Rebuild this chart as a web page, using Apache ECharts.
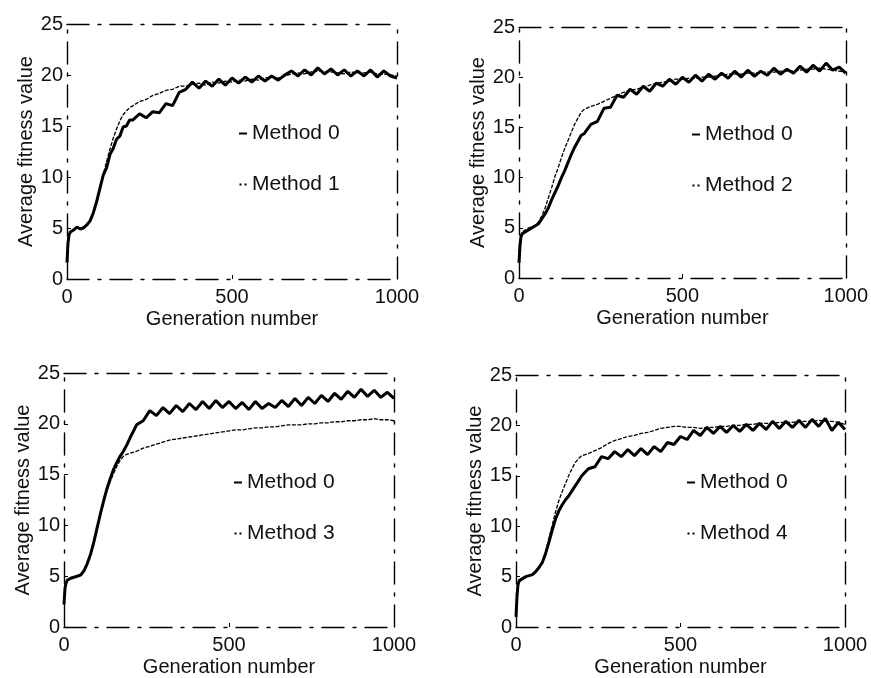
<!DOCTYPE html>
<html>
<head>
<meta charset="utf-8">
<script src="https://cdn.jsdelivr.net/npm/echarts@6/dist/echarts.min.js"></script>
<style>
  html, body { margin: 0; padding: 0; background: #fff; }
  #chart { width: 871px; height: 678px; }
</style>
</head>
<body>
<div id="chart"></div>
<script>
const gens = [0, 3, 6, 10, 20, 30, 40, 50, 60, 70, 80, 90, 100, 110, 120, 130, 140, 150, 160, 170, 180, 190, 200,
  220, 240, 260, 280, 300, 320, 340, 360, 380, 400, 420, 440, 460, 480, 500, 520, 540, 560, 580, 600,
  620, 640, 660, 680, 700, 720, 740, 760, 780, 800, 820, 840, 860, 880, 900, 920, 940, 960, 980, 1000];

const xTicks = [0, 500, 1000];
const yTicks = [0, 5, 10, 15, 20, 25];

// plot 1
const p1Method0 = [2.2, 3.8, 4.4, 4.6, 4.9, 5.0, 5.0, 5.1, 5.3, 5.8, 6.6, 7.8, 9.0, 10.3, 11.5, 12.7, 13.8, 14.7, 15.5, 16.1, 16.5, 16.8, 17.0,
  17.4, 17.6, 18.0, 18.2, 18.5, 18.6, 18.9, 18.9, 19.1, 19.2, 19.0, 19.3, 19.2, 19.4, 19.3, 19.5, 19.4, 19.6, 19.5, 19.7,
  19.8, 19.7, 19.9, 20.1, 20.2, 20.1, 20.3, 20.4, 20.3, 20.3, 20.2, 20.1, 20.3, 20.2, 20.2, 20.3, 20.1, 20.1, 20.0, 19.9];
const p1Method1 = [1.6, 3.5, 4.3, 4.6, 4.8, 5.1, 4.9, 5.0, 5.3, 5.7, 6.5, 7.6, 8.9, 10.2, 10.9, 12.2, 12.8, 13.7, 14.0, 14.9, 15.0, 15.6, 15.6,
  16.2, 15.8, 16.4, 16.3, 17.2, 17.0, 18.3, 18.6, 19.3, 18.7, 19.4, 18.9, 19.6, 19.0, 19.7, 19.2, 19.8, 19.3, 19.9, 19.4,
  19.9, 19.5, 20.0, 20.4, 19.9, 20.5, 20.0, 20.7, 20.1, 20.6, 20.0, 20.5, 19.9, 20.4, 19.9, 20.5, 19.8, 20.4, 19.9, 19.7];

// plot 2
const p2Method0 = [2.5, 3.8, 4.3, 4.6, 4.8, 5.0, 5.1, 5.2, 5.6, 6.2, 7.0, 8.0, 9.0, 10.1, 11.0, 12.0, 12.9, 13.7, 14.5, 15.3, 15.9, 16.5, 16.8,
  17.1, 17.3, 17.6, 17.9, 18.2, 18.5, 18.7, 18.8, 19.0, 19.2, 19.4, 19.5, 19.6, 19.8, 19.8, 19.9, 19.9, 20.0, 20.0, 20.1,
  20.2, 20.3, 20.3, 20.3, 20.4, 20.4, 20.5, 20.5, 20.5, 20.6, 20.6, 20.6, 20.7, 20.8, 20.8, 20.9, 20.8, 20.7, 20.6, 20.5];
const p2Method2 = [1.5, 3.2, 4.1, 4.4, 4.6, 4.8, 5.0, 5.2, 5.4, 5.9, 6.4, 7.0, 7.8, 8.5, 9.2, 10.0, 10.7, 11.5, 12.3, 13.0, 13.6, 14.2, 14.4,
  15.3, 15.6, 16.9, 17.0, 18.2, 18.0, 18.8, 18.3, 19.1, 18.6, 19.4, 19.1, 19.8, 19.3, 20.0, 19.5, 20.2, 19.6, 20.3, 19.8,
  20.4, 19.9, 20.6, 20.0, 20.7, 20.1, 20.6, 20.2, 20.9, 20.3, 20.8, 20.4, 21.1, 20.5, 21.2, 20.6, 21.4, 20.7, 21.0, 20.4];

// plot 3
const p3Method0 = [2.5, 3.9, 4.4, 4.6, 4.8, 4.9, 5.0, 5.2, 5.6, 6.3, 7.2, 8.4, 9.6, 11.0, 12.3, 13.4, 14.3, 15.1, 15.8, 16.4, 16.8, 17.0, 17.1,
  17.3, 17.6, 17.8, 18.0, 18.2, 18.4, 18.5, 18.6, 18.7, 18.8, 18.9, 19.0, 19.1, 19.2, 19.3, 19.4, 19.4, 19.5, 19.6, 19.6,
  19.7, 19.7, 19.8, 19.9, 19.9, 19.9, 20.0, 20.0, 20.1, 20.1, 20.2, 20.2, 20.3, 20.3, 20.4, 20.4, 20.5, 20.4, 20.4, 20.3];
const p3Method3 = [2.2, 3.8, 4.3, 4.6, 4.8, 4.9, 5.0, 5.1, 5.5, 6.2, 7.1, 8.3, 9.7, 11.1, 12.4, 13.6, 14.6, 15.5, 16.2, 16.8, 17.3, 17.9, 18.6,
  19.9, 20.3, 21.3, 20.8, 21.6, 21.0, 21.8, 21.2, 22.0, 21.4, 22.2, 21.5, 22.3, 21.6, 22.2, 21.5, 22.1, 21.4, 22.2, 21.5,
  22.0, 21.6, 22.3, 21.7, 22.5, 21.8, 22.6, 22.0, 22.8, 22.2, 23.0, 22.4, 23.2, 22.6, 23.4, 22.7, 23.3, 22.6, 23.1, 22.5];

// plot 4
const p4Method0 = [1.2, 3.6, 4.4, 4.6, 4.9, 5.0, 5.1, 5.2, 5.5, 5.9, 6.4, 7.5, 8.8, 10.1, 11.4, 12.5, 13.4, 14.2, 15.0, 15.7, 16.3, 16.7, 17.0,
  17.2, 17.5, 17.8, 18.2, 18.5, 18.7, 18.9, 19.0, 19.2, 19.3, 19.5, 19.7, 19.8, 19.9, 19.9, 19.8, 19.8, 19.7, 19.8, 19.8,
  19.9, 19.9, 20.0, 20.0, 20.1, 20.1, 20.2, 20.2, 20.2, 20.3, 20.3, 20.3, 20.4, 20.4, 20.4, 20.5, 20.4, 20.4, 20.3, 20.1];
const p4Method4 = [1.0, 3.0, 4.2, 4.6, 4.8, 5.0, 5.1, 5.2, 5.5, 5.9, 6.4, 7.3, 8.4, 9.6, 10.7, 11.5, 12.1, 12.6, 13.0, 13.5, 14.0, 14.5, 15.0,
  15.7, 15.9, 16.9, 16.7, 17.4, 16.9, 17.6, 17.0, 17.7, 17.1, 17.9, 17.4, 18.3, 18.1, 18.9, 18.6, 19.5, 19.0, 19.8, 19.2,
  19.9, 19.3, 20.0, 19.4, 20.1, 19.5, 20.2, 19.6, 20.4, 19.7, 20.4, 19.8, 20.5, 19.8, 20.6, 19.9, 20.7, 19.5, 20.3, 19.6];

const panels = [
  { other: "Method 1", m0: p1Method0, mn: p1Method1, grid: { left: 67, top: 24, width: 330, height: 255 }, legend: { left: 234, top: 118 } },
  { other: "Method 2", m0: p2Method0, mn: p2Method2, grid: { left: 519, top: 27, width: 332, height: 251 }, legend: { left: 687, top: 119 } },
  { other: "Method 3", m0: p3Method0, mn: p3Method3, grid: { left: 64, top: 373, width: 330, height: 255 }, legend: { left: 229, top: 467 } },
  { other: "Method 4", m0: p4Method0, mn: p4Method4, grid: { left: 516, top: 375, width: 329, height: 254 }, legend: { left: 682, top: 467 } }
];

const font = "'Liberation Sans', Arial, sans-serif";
const ink = "#111";
const boxLine = { color: "#000", width: 1.4, type: [22, 9, 3, 9] };

const grids = [], xAxes = [], yAxes = [], series = [], legends = [];

panels.forEach((p, k) => {
  grids.push(p.grid);
  // bottom + top x axes, left + right y axes make the box
  xAxes.push({
    gridIndex: k, type: "value", min: 0, max: 1000, interval: 500,
    name: "Generation number", nameLocation: "middle", nameGap: 30,
    nameTextStyle: { fontSize: 20, color: ink, fontFamily: font },
    axisLine: { show: true, onZero: false, lineStyle: boxLine },
    axisTick: { show: true, inside: true, length: 4, lineStyle: { color: "#000" } },
    axisLabel: { fontSize: 20, color: ink, fontFamily: font, margin: 8,
      formatter: v => xTicks.includes(v) ? String(v) : "" },
    splitLine: { show: false }
  });
  xAxes.push({
    gridIndex: k, type: "value", min: 0, max: 1000, position: "top",
    axisLine: { show: true, onZero: false, lineStyle: boxLine },
    axisTick: { show: false }, axisLabel: { show: false }, splitLine: { show: false }
  });
  yAxes.push({
    gridIndex: k, type: "value", min: 0, max: 25, interval: 5,
    name: "Average fitness value", nameLocation: "middle", nameGap: 31,
    nameTextStyle: { fontSize: 20, color: ink, fontFamily: font },
    axisLine: { show: true, onZero: false, lineStyle: boxLine },
    axisTick: { show: true, inside: true, length: 4, lineStyle: { color: "#000" } },
    axisLabel: { fontSize: 20, color: ink, fontFamily: font, margin: 4,
      formatter: v => yTicks.includes(v) ? String(v) : "" },
    splitLine: { show: false }
  });
  yAxes.push({
    gridIndex: k, type: "value", min: 0, max: 25, position: "right",
    axisLine: { show: true, onZero: false, lineStyle: boxLine },
    axisTick: { show: false }, axisLabel: { show: false }, splitLine: { show: false }
  });

  series.push({
    name: "Method 0", type: "line", xAxisIndex: 2 * k, yAxisIndex: 2 * k,
    data: gens.map((g, i) => [g, p.m0[i]]),
    showSymbol: false, color: "#000",
    lineStyle: { width: 1.3, color: "#000", type: [4, 1.5] }
  });
  series.push({
    name: p.other, type: "line", xAxisIndex: 2 * k, yAxisIndex: 2 * k,
    data: gens.map((g, i) => [g, p.mn[i]]),
    showSymbol: false, color: "#000",
    lineStyle: { width: 3, color: "#000" }
  });

  legends.push({
    left: p.legend.left, top: p.legend.top, orient: "vertical",
    itemGap: 30, itemWidth: 8, itemHeight: 2, selectedMode: false,
    textStyle: { fontSize: 21, color: ink, fontFamily: font },
    data: [
      { name: "Method 0", icon: "rect" },
      { name: p.other, icon: "path://M0,0h2v2h-2zM5,0h2v2h-2z" }
    ]
  });
});

const chart = echarts.init(document.getElementById("chart"));
chart.setOption({
  backgroundColor: "#fff",
  animation: false,
  grid: grids,
  xAxis: xAxes,
  yAxis: yAxes,
  legend: legends,
  series: series
});
</script>
</body>
</html>
